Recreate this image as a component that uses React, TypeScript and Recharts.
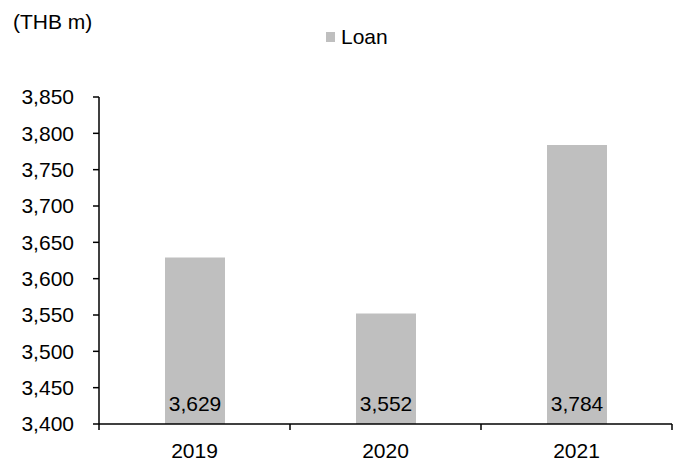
import React from 'react';
import { BarChart, Bar, XAxis, YAxis, LabelList, Legend } from 'recharts';

const years = ['2019', '2020', '2021'];
const loanValues = [3629, 3552, 3784];
const yTicks = [3400, 3450, 3500, 3550, 3600, 3650, 3700, 3750, 3800, 3850];
const unitLabel = '(THB m)';
const seriesName = 'Loan';

const data = years.map((y, i) => ({ year: y, loan: loanValues[i] }));

const FONT = '"Liberation Sans", Arial, sans-serif';
const fmt = (v: number) => Number(v).toLocaleString('en-US');

const XTick = (props: any) => {
  const { x, y, payload, index, visibleTicksCount } = props;
  const half = payload && payload.offset ? payload.offset : 0;
  const axisY = y - 6 - 15;
  const isLast = index === (visibleTicksCount ?? years.length) - 1;
  return (
    <g>
      <line x1={x - half} x2={x - half} y1={axisY} y2={axisY + 6} stroke="#000" strokeWidth={1.5} />
      {isLast && (
        <line x1={x + half} x2={x + half} y1={axisY} y2={axisY + 6} stroke="#000" strokeWidth={1.5} />
      )}
      <text x={x} y={axisY + 19.5} dy="0.71em" textAnchor="middle" fontSize={21} fontFamily={FONT} fill="#000">
        {payload.value}
      </text>
    </g>
  );
};

const LegendContent = () => (
  <div style={{ display: 'flex', alignItems: 'center', fontFamily: FONT, fontSize: 21, lineHeight: '24px' }}>
    <span style={{ display: 'inline-block', width: 9, height: 10, background: '#BFBFBF', marginRight: 6 }} />
    <span style={{ color: '#000' }}>{seriesName}</span>
  </div>
);

export default function App() {
  return (
    <div style={{ position: 'absolute', left: 0, top: 0, width: 681, height: 461, background: '#fff' }}>
      <svg width={681} height={461} style={{ position: 'absolute', left: 0, top: 0 }}>
        <text x={13} y={28.5} fontSize={21} fontFamily={FONT} fill="#000">{unitLabel}</text>
      </svg>
      <div style={{ position: 'absolute', left: 0, top: 0 }}>
        <BarChart width={681} height={461} data={data} margin={{ top: 73, right: 9, bottom: 0, left: 0 }}>
          <Legend
            verticalAlign="top"
            align="left"
            content={<LegendContent />}
            wrapperStyle={{ position: 'absolute', left: 326, top: 25, width: 'auto', height: 24 }}
          />
          <XAxis
            dataKey="year"
            height={37}
            axisLine={{ stroke: '#000', strokeWidth: 1.5 }}
            tickLine={false}
            tick={<XTick />}
            tickSize={6}
            tickMargin={15}
            interval={0}
          />
          <YAxis
            width={99}
            domain={[3400, 3850]}
            ticks={yTicks}
            interval={0}
            allowDataOverflow
            axisLine={{ stroke: '#000', strokeWidth: 1.5 }}
            tickLine={{ stroke: '#000', strokeWidth: 1.5 }}
            tickSize={6}
            tickMargin={19}
            tickFormatter={fmt}
            tick={{ fill: '#000', fontSize: 21, fontFamily: FONT }}
          />
          <Bar dataKey="loan" name={seriesName} fill="#BFBFBF" barSize={60} isAnimationActive={false}>
            <LabelList
              dataKey="loan"
              position="insideBottom"
              offset={13}
              formatter={fmt}
              fill="#000"
              fontSize={21}
              fontFamily={FONT}
            />
          </Bar>
        </BarChart>
      </div>
    </div>
  );
}
